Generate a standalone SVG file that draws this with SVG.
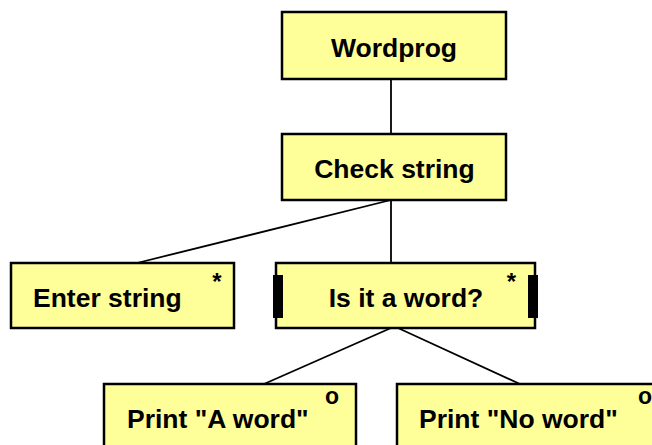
<svg xmlns="http://www.w3.org/2000/svg" width="652" height="445" viewBox="0 0 652 445">
<style>
.box{fill:#ffff99;stroke:#000;stroke-width:2.5}
.lbl{font-family:"Liberation Sans",Arial,sans-serif;font-weight:bold;font-size:26.5px;fill:#000}
.mark{font-family:"Liberation Sans",Arial,sans-serif;font-weight:bold;font-size:24px;fill:#000;text-anchor:middle}
.o{font-size:23px}
.conn{stroke:#000;stroke-width:1.8;fill:none}
.bar{fill:#000}
</style>
<rect width="652" height="445" fill="#fff"/>
<g id="connectors">
<line class="conn" x1="391" y1="79" x2="391" y2="134"/>
<line class="conn" x1="391" y1="200" x2="137" y2="263"/>
<line class="conn" x1="391" y1="200" x2="391" y2="263"/>
<line class="conn" x1="391" y1="328" x2="264" y2="384"/>
<line class="conn" x1="398" y1="328" x2="520" y2="384"/>
</g>
<g id="wordprog">
<rect class="box" x="282" y="12" width="224" height="67"/>
<text class="lbl" x="394" y="57" text-anchor="middle">Wordprog</text>
</g>
<g id="checkstring">
<rect class="box" x="282" y="134" width="224" height="66"/>
<text class="lbl" x="394.5" y="178" text-anchor="middle">Check string</text>
</g>
<g id="enterstring">
<rect class="box" x="11" y="263" width="223" height="65"/>
<text class="lbl" x="33" y="307">Enter string</text>
<text class="mark" x="217" y="289.5">*</text>
</g>
<g id="isitaword">
<rect class="box" x="276" y="263" width="259" height="65"/>
<rect class="bar" x="273" y="275" width="10" height="43"/>
<rect class="bar" x="528" y="275" width="10" height="43"/>
<text class="lbl" x="406" y="307" text-anchor="middle">Is it a word?</text>
<text class="mark" x="511.5" y="289.5">*</text>
</g>
<g id="printaword">
<rect class="box" x="104" y="384" width="252" height="70"/>
<text class="lbl" x="127" y="428">Print "A word"</text>
<text class="mark o" x="332" y="404">o</text>
</g>
<g id="printnoword">
<rect class="box" x="397" y="384" width="270" height="70"/>
<text class="lbl" x="419" y="428">Print "No word"</text>
<text class="mark o" x="645" y="404">o</text>
</g>
</svg>
